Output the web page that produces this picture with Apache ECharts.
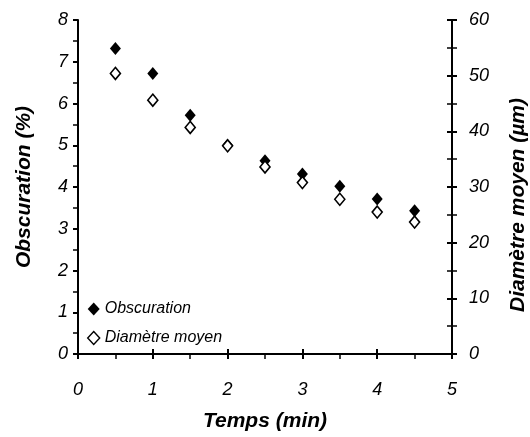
<!DOCTYPE html>
<html><head><meta charset="utf-8">
<script src="https://cdn.jsdelivr.net/npm/echarts@6/dist/echarts.min.js"></script>
<style>html,body{margin:0;padding:0;background:#fff}#c{width:530px;height:437px}</style>
</head><body><div id="c"></div>
<script>
const times = [0.5, 1, 1.5, 2, 2.5, 3, 3.5, 4, 4.5];
const obscuration = [7.32, 6.72, 5.72, 5.0, 4.63, 4.31, 4.02, 3.71, 3.43];
const diametre = [50.4, 45.6, 40.7, 37.4, 33.6, 30.8, 27.8, 25.5, 23.7];
const seriesNames = ['Obscuration', 'Diamètre moyen'];
const xTitle = 'Temps (min)';
const yLeftTitle = 'Obscuration (%)';
const yRightTitle = 'Diamètre moyen (µm)';

const font = 'Liberation Sans, Arial, sans-serif';
const lbl = {fontFamily: font, fontStyle: 'italic', fontSize: 18, color: '#000'};
const ttl = {fontFamily: font, fontStyle: 'italic', fontWeight: 'bold', fontSize: 21, color: '#000'};
const line = {show: true, onZero: false, lineStyle: {color: '#000', width: 2}};

const chart = echarts.init(document.getElementById('c'));
chart.setOption({
  animation: false,
  grid: {left: 78, right: 78, top: 20, bottom: 83, containLabel: false, outerBoundsMode: 'none'},
  legend: {
    orient: 'vertical', left: 82, top: 296, itemGap: 13, itemWidth: 12, itemHeight: 13, itemGap: 13,
    textStyle: {fontFamily: font, fontStyle: 'italic', fontSize: 16, color: '#000'},
    data: [
      {name: seriesNames[0], icon: 'diamond'},
      {name: seriesNames[1], icon: 'diamond', itemStyle: {borderWidth: 1.4}}
    ]
  },
  xAxis: [{
    type: 'value', min: 0, max: 5, interval: 1, position: 'bottom',
    axisLine: line,
    axisTick: {show: true, inside: false, length: 5, lineStyle: {color: '#000', width: 2}},
    minorTick: {show: true, splitNumber: 2, length: 5, lineStyle: {color: '#000', width: 1.5}},
    splitLine: {show: false},
    axisLabel: Object.assign({margin: 27}, lbl),
    name: xTitle, nameLocation: 'middle', nameGap: 57, nameTextStyle: ttl
  }, {
    type: 'value', min: 0, max: 5, interval: 1, position: 'bottom',
    axisLine: {show: false, onZero: false},
    axisTick: {show: true, inside: true, length: 5, lineStyle: {color: '#000', width: 2}},
    splitLine: {show: false}, axisLabel: {show: false}
  }],
  yAxis: [{
    type: 'value', min: 0, max: 8, interval: 1, position: 'left',
    axisLine: line,
    axisTick: {show: true, inside: false, length: 5, lineStyle: {color: '#000', width: 2}},
    minorTick: {show: true, splitNumber: 2, length: 5, lineStyle: {color: '#000', width: 1.5}},
    splitLine: {show: false},
    axisLabel: Object.assign({margin: 10}, lbl),
    name: yLeftTitle, nameLocation: 'middle', nameGap: 43, nameRotate: 90, nameTextStyle: ttl
  }, {
    type: 'value', min: 0, max: 60, interval: 10, position: 'right',
    axisLine: line,
    axisTick: {show: true, inside: false, length: 5, lineStyle: {color: '#000', width: 2}},
    minorTick: {show: true, splitNumber: 2, length: 5, lineStyle: {color: '#000', width: 1.5}},
    splitLine: {show: false},
    axisLabel: Object.assign({margin: 17}, lbl),
    name: yRightTitle, nameLocation: 'middle', nameGap: 56, nameRotate: 90,
    nameTextStyle: Object.assign({padding: [0, 36, 0, 0]}, ttl)
  }, {
    type: 'value', min: 0, max: 60, interval: 10, position: 'right',
    axisLine: {show: false, onZero: false},
    axisTick: {show: true, inside: true, length: 5, lineStyle: {color: '#000', width: 2}},
    minorTick: {show: true, splitNumber: 2, length: 5, lineStyle: {color: '#000', width: 1.5}},
    splitLine: {show: false}, axisLabel: {show: false}
  }],
  series: [{
    name: seriesNames[0], type: 'scatter', xAxisIndex: 0, yAxisIndex: 0,
    symbol: 'diamond', symbolSize: [11, 13],
    itemStyle: {color: '#000', opacity: 1},
    data: times.map((t, i) => [t, obscuration[i]])
  }, {
    name: seriesNames[1], type: 'scatter', xAxisIndex: 0, yAxisIndex: 1,
    symbol: 'diamond', symbolSize: [10, 12],
    itemStyle: {color: '#fff', borderColor: '#000', borderWidth: 1.6, opacity: 1},
    data: times.map((t, i) => [t, diametre[i]])
  }]
});
</script></body></html>
